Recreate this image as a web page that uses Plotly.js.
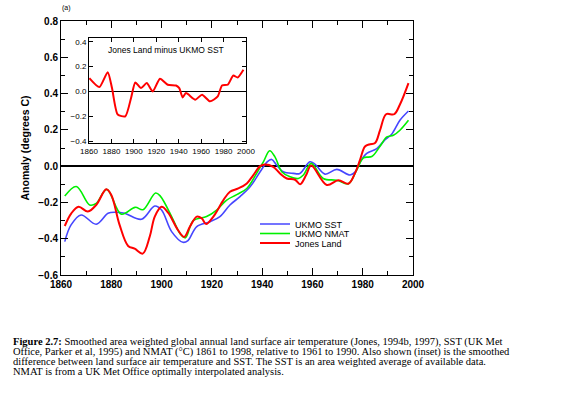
<!DOCTYPE html>
<html>
<head>
<meta charset="utf-8">
<script src="https://cdn.plot.ly/plotly-3.0.1.min.js"></script>
<style>
  html, body { margin: 0; padding: 0; background: #fff; }
  #chart { width: 586px; height: 397px; }
</style>
</head>
<body>
<div id="chart"></div>
<script>
// ---- data ----
const seriesNames = ["UKMO SST", "UKMO NMAT", "Jones Land"];
const seriesColors = ["rgb(70,70,255)", "rgb(0,240,0)", "rgb(255,0,0)"];

const sstYears = [1861.5,1864,1868,1874,1878.7,1881.5,1885.3,1892,1897.3,1900,1904,1908.5,1910.5,1914,1919.3,1923.2,1927.2,1931.2,1935.2,1939.2,1942,1943.8,1945.8,1948.4,1952.4,1955,1959,1961,1965,1969.7,1975,1977,1979,1981.6,1985.6,1989,1991.5,1994.8,1998.2];
const sstVals  = [-0.416,-0.324,-0.269,-0.32,-0.26,-0.254,-0.26,-0.293,-0.22,-0.242,-0.361,-0.42,-0.41,-0.333,-0.306,-0.278,-0.214,-0.168,-0.114,-0.031,0.024,0.037,0.005,-0.031,-0.04,-0.04,0.024,0.011,-0.044,-0.018,-0.049,-0.031,0.024,0.07,0.097,0.147,0.176,0.253,0.304];

const nmatYears = [1861.5,1866.1,1871.4,1874,1878.2,1884,1889.5,1892.6,1897.6,1899.5,1904,1907.5,1909.5,1912.6,1917.9,1921.9,1925.9,1929.9,1933.9,1937.8,1940.5,1943,1945.1,1947.8,1951.1,1954.4,1956.4,1959.5,1964.3,1969.7,1974.3,1977.6,1980.3,1983.6,1986.9,1989.6,1992.2,1994.8,1998.2];
const nmatVals  = [-0.165,-0.112,-0.214,-0.205,-0.128,-0.265,-0.227,-0.24,-0.148,-0.165,-0.278,-0.375,-0.395,-0.3,-0.278,-0.242,-0.187,-0.157,-0.123,-0.04,0.024,0.085,0.051,-0.031,-0.059,-0.068,-0.049,0.015,-0.068,-0.078,-0.097,-0.022,0.046,0.053,0.11,0.161,0.17,0.198,0.253];

const landYears = [1861.5,1864.1,1867,1870.7,1874,1878,1880,1883.3,1886.7,1889.3,1892.5,1895.3,1897.3,1900,1902.6,1906.5,1909,1911.3,1914,1916,1917.7,1920.6,1924.6,1927.2,1930.5,1933.9,1936.5,1939.2,1941.1,1944.4,1947.1,1949.8,1953.1,1955.1,1957.5,1959.5,1965.7,1970.3,1974.3,1976.9,1978.9,1980.9,1982.9,1984.9,1986.9,1989.3,1992.5,1994.8,1998.2];
const landVals  = [-0.33,-0.26,-0.224,-0.25,-0.214,-0.128,-0.159,-0.324,-0.44,-0.455,-0.482,-0.388,-0.278,-0.224,-0.256,-0.352,-0.39,-0.333,-0.278,-0.288,-0.319,-0.278,-0.187,-0.141,-0.123,-0.095,-0.049,0.0,0.009,-0.004,-0.04,-0.068,-0.075,-0.1,-0.049,0.003,-0.104,-0.078,-0.097,-0.04,0.033,0.108,0.121,0.127,0.198,0.286,0.286,0.34,0.458];

const diffYears = [1860.3,1869.2,1876.7,1880.5,1885.6,1892.4,1897.5,1901.3,1906.4,1911.5,1916.8,1923.3,1930.2,1937.6,1940.5,1943.5,1946.5,1954.8,1960.8,1967.9,1974.8,1978.6,1983.7,1988.7,1992.6,1997.7];
const diffVals  = [0.107,0.035,0.155,0.027,-0.186,-0.2,-0.053,0.072,0.027,0.067,0.0,0.102,0.054,0.048,0.027,-0.048,-0.013,-0.066,-0.026,-0.08,-0.04,0.048,0.054,0.128,0.112,0.174];
const insetTitle = "Jones Land minus UKMO SST";

const captionLines = [
  "<b>Figure 2.7:</b> Smoothed area weighted global annual land surface air temperature (Jones, 1994b, 1997), SST (UK Met",
  "Office, Parker et al, 1995) and NMAT (°C) 1861 to 1998, relative to 1961 to 1990. Also shown (inset) is the smoothed",
  "difference between land surface air temperature and SST. The SST is an area weighted average of available data.",
  "NMAT is from a UK Met Office optimally interpolated analysis."
];

// ---- traces ----
const W = 586, H = 397;
const px = v => v / W;
const py = v => 1 - v / H;

const mainData = [[sstYears, sstVals], [nmatYears, nmatVals], [landYears, landVals]];
const legendIds = ["legend", "legend2", "legend3"];
const traces = mainData.map((d, i) => ({
  type: "scatter", mode: "lines",
  x: d[0], y: d[1],
  name: seriesNames[i],
  line: { color: seriesColors[i], width: i === 2 ? 2 : 1.6, shape: "spline", smoothing: 1 },
  xaxis: "x", yaxis: "y",
  legend: legendIds[i],
  hoverinfo: "x+y"
}));
traces.push({
  type: "scatter", mode: "lines",
  x: diffYears, y: diffVals,
  line: { color: "rgb(255,0,0)", width: 2, shape: "spline", smoothing: 0.6 },
  xaxis: "x2", yaxis: "y2", showlegend: false
});

const boldFont = { family: "Liberation Sans, Arial, sans-serif", size: 10, color: "#000", weight: "bold" };
const smallFont = { family: "Liberation Sans, Arial, sans-serif", size: 8, color: "#000" };

function legendAt(yPix) {
  return {
    x: px(255), y: py(yPix), xanchor: "left", yanchor: "middle",
    bgcolor: "rgba(0,0,0,0)", borderwidth: 0,
    font: { family: "Liberation Sans, Arial, sans-serif", size: 9, color: "#000" },
    itemwidth: 30
  };
}

const captionTop = [335, 345, 355, 365];
const annotations = captionLines.map((t, i) => ({
  xref: "paper", yref: "paper", x: px(12), y: py(captionTop[i]),
  xanchor: "left", yanchor: "top", showarrow: false, text: t, borderpad: 0,
  font: { family: "Liberation Serif, Times New Roman, serif", size: 10.5, color: "#000" }
}));
annotations.push({
  xref: "paper", yref: "paper", x: px(66), y: py(8), xanchor: "center", yanchor: "middle",
  showarrow: false, text: "(a)",
  font: { family: "Liberation Sans, Arial, sans-serif", size: 7, color: "#000" }
});
annotations.push({
  xref: "paper", yref: "paper", x: px(166), y: py(50), xanchor: "center", yanchor: "middle",
  showarrow: false, text: insetTitle,
  font: { family: "Liberation Sans, Arial, sans-serif", size: 8.5, color: "#000" }
});

const layout = {
  width: W, height: H,
  margin: { l: 0, r: 0, t: 0, b: 0, pad: 0 },
  paper_bgcolor: "#fff", plot_bgcolor: "rgba(0,0,0,0)",
  showlegend: true,
  legend: legendAt(224),
  legend2: legendAt(233.5),
  legend3: legendAt(243),
  xaxis: {
    domain: [px(61), px(413)], range: [1860, 2000],
    tick0: 1860, dtick: 20, ticks: "inside", ticklen: 7, tickcolor: "#000",
    minor: { dtick: 10, ticks: "inside", ticklen: 4, tickcolor: "#000" },
    showline: true, linecolor: "#000", linewidth: 1, mirror: "allticks",
    showgrid: false, zeroline: false, tickfont: boldFont, anchor: "y"
  },
  yaxis: {
    domain: [1 - 275 / H, 1 - 21 / H], range: [-0.6, 0.8],
    tick0: 0, dtick: 0.2, tickformat: ".1f", ticks: "inside", ticklen: 7, tickcolor: "#000",
    minor: { dtick: 0.1, ticks: "inside", ticklen: 4, tickcolor: "#000" },
    showline: true, linecolor: "#000", linewidth: 1, mirror: "allticks",
    showgrid: false, zeroline: true, zerolinecolor: "#000", zerolinewidth: 1.5,
    tickfont: boldFont, anchor: "x",
    title: { text: "Anomaly (degrees C)", font: { family: "Liberation Sans, Arial, sans-serif", size: 10.5, color: "#000", weight: "bold" }, standoff: 6 }
  },
  xaxis2: {
    domain: [px(89), px(246)], range: [1860, 2000],
    tick0: 1860, dtick: 20, ticks: "inside", ticklen: 4, tickcolor: "#000",
    showline: true, linecolor: "#000", linewidth: 1, mirror: "allticks",
    showgrid: false, zeroline: false, tickfont: smallFont, anchor: "y2"
  },
  yaxis2: {
    domain: [1 - 143 / H, 1 - 38 / H], range: [-0.415, 0.43],
    tick0: 0, dtick: 0.2, tickformat: ".1f", ticks: "inside", ticklen: 4, tickcolor: "#000",
    showline: true, linecolor: "#000", linewidth: 1, mirror: "allticks",
    showgrid: false, zeroline: true, zerolinecolor: "#000", zerolinewidth: 1,
    tickfont: smallFont, anchor: "x2"
  },
  annotations: annotations
};

Plotly.newPlot("chart", traces, layout, { staticPlot: true, displayModeBar: false });
</script>
</body>
</html>
